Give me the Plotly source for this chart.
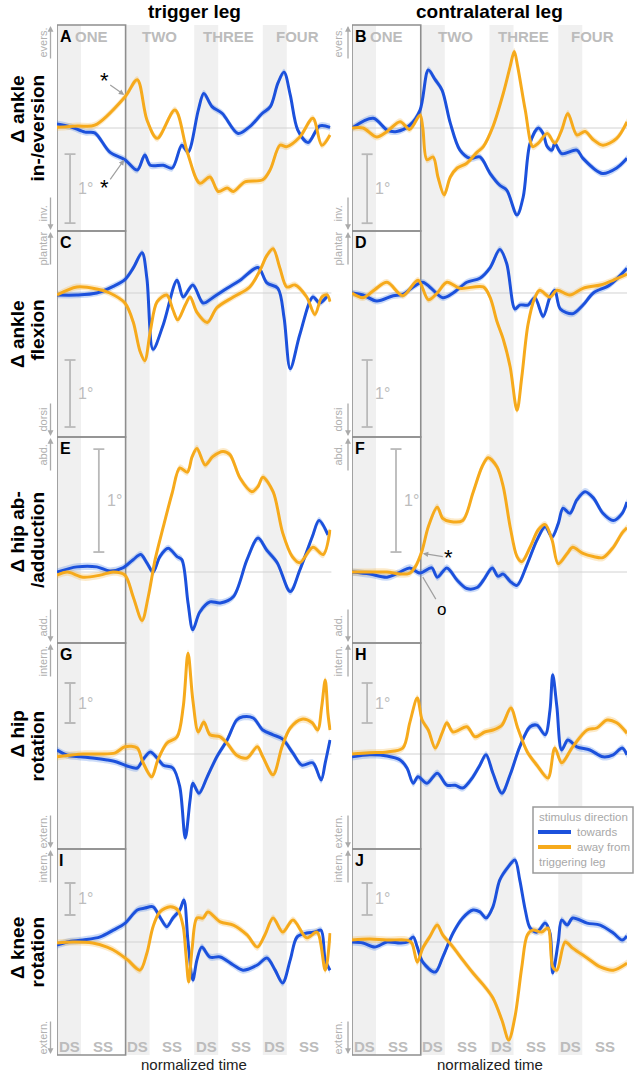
import plotly.graph_objects as go

# ---------------- data: normalized time (steps) / delta angle (deg) ----------------
A_blue_t = [0, 0.19, 0.41, 0.55, 0.77, 0.99, 1.17, 1.28, 1.36, 1.55, 1.68, 1.82, 1.91, 2.06, 2.14, 2.26, 2.41, 2.64, 2.81, 2.99, 3.11, 3.22, 3.31, 3.40, 3.51, 3.66, 3.83, 3.98]
A_blue_v = [0.06, 0.02, -0.06, -0.07, -0.35, -0.46, -0.61, -0.39, -0.54, -0.54, -0.58, -0.25, -0.35, 0.26, 0.50, 0.31, 0.21, -0.08, 0.02, 0.21, 0.31, 0.65, 0.81, 0.48, -0.03, -0.21, 0.03, 0.01]
A_orange_t = [0, 0.3, 0.55, 0.99, 1.17, 1.31, 1.46, 1.72, 1.90, 2.08, 2.23, 2.35, 2.48, 2.57, 2.74, 3.00, 3.11, 3.25, 3.35, 3.54, 3.73, 3.86, 3.98]
A_orange_v = [0.01, 0.03, 0.04, 0.45, 0.70, 0.12, -0.15, 0.26, -0.35, -0.80, -0.71, -0.92, -0.87, -0.92, -0.78, -0.75, -0.60, -0.25, -0.27, -0.13, 0.14, -0.25, -0.10]

B_blue_t = [0, 0.31, 0.51, 0.65, 0.84, 0.99, 1.11, 1.21, 1.31, 1.43, 1.57, 1.72, 1.86, 2.01, 2.15, 2.25, 2.40, 2.49, 2.59, 2.71, 2.78, 2.84, 2.91, 2.95, 3.05, 3.27, 3.36, 3.64, 3.85, 4.0]
B_blue_v = [0, 0.14, -0.03, -0.05, 0.04, 0.26, 0.84, 0.70, 0.55, 0.07, -0.32, -0.44, -0.42, -0.66, -0.83, -0.90, -1.26, -1.00, -0.22, 0.0, -0.08, -0.27, -0.32, -0.22, -0.37, -0.32, -0.44, -0.66, -0.58, -0.44]
B_orange_t = [0, 0.16, 0.36, 0.51, 0.70, 0.84, 0.99, 1.03, 1.09, 1.18, 1.25, 1.34, 1.43, 1.53, 1.67, 1.82, 1.91, 2.05, 2.20, 2.30, 2.36, 2.41, 2.52, 2.63, 2.71, 2.84, 2.95, 3.05, 3.14, 3.27, 3.39, 3.51, 3.65, 3.85, 4.0]
B_orange_v = [0, 0, -0.13, -0.05, 0.09, -0.02, 0.19, 0.0, -0.46, -0.42, -0.71, -0.97, -0.71, -0.58, -0.51, -0.35, -0.27, 0.02, 0.50, 0.89, 1.11, 0.89, 0.26, -0.27, -0.22, -0.08, -0.22, -0.03, 0.21, -0.10, -0.05, -0.17, -0.25, -0.15, 0.09]

C_blue_t = [0, 0.29, 0.58, 0.82, 0.99, 1.11, 1.24, 1.31, 1.40, 1.55, 1.75, 1.84, 1.98, 2.13, 2.27, 2.48, 2.67, 2.93, 3.06, 3.22, 3.31, 3.40, 3.54, 3.73, 3.83, 3.95]
C_blue_v = [-0.03, -0.03, 0.0, 0.10, 0.20, 0.37, 0.60, 0.22, -0.84, -0.47, 0.19, -0.06, 0.12, -0.15, -0.07, 0.07, 0.19, 0.38, 0.15, 0.07, -0.37, -1.13, -0.62, -0.06, -0.15, -0.03]
C_orange_t = [0, 0.29, 0.58, 0.77, 0.99, 1.11, 1.21, 1.28, 1.36, 1.46, 1.60, 1.69, 1.76, 1.87, 1.94, 2.04, 2.19, 2.33, 2.57, 2.81, 2.96, 3.06, 3.15, 3.25, 3.35, 3.47, 3.64, 3.76, 3.86, 3.94, 3.98]
C_orange_v = [-0.03, 0.09, 0.06, 0.0, -0.15, -0.43, -0.87, -1.01, -0.57, -0.13, -0.03, -0.25, -0.40, -0.18, -0.06, -0.29, -0.44, -0.22, -0.06, 0.09, 0.34, 0.56, 0.66, 0.37, 0.09, 0.12, -0.06, -0.32, -0.06, -0.03, -0.13]

D_blue_t = [0, 0.16, 0.36, 0.60, 0.74, 0.89, 1.03, 1.13, 1.32, 1.47, 1.67, 1.86, 2.01, 2.15, 2.25, 2.37, 2.44, 2.56, 2.66, 2.78, 2.88, 2.95, 3.03, 3.21, 3.36, 3.51, 3.75, 4.0]
D_blue_v = [0, -0.03, -0.12, -0.04, -0.02, 0.09, 0.16, 0.09, -0.07, 0.0, 0.16, 0.22, 0.38, 0.65, 0.44, -0.24, -0.18, -0.18, -0.07, -0.35, -0.06, 0.04, -0.24, -0.31, -0.18, 0.0, 0.12, 0.37]
D_orange_t = [0, 0.16, 0.33, 0.51, 0.74, 0.96, 1.11, 1.24, 1.38, 1.57, 1.91, 2.01, 2.11, 2.20, 2.30, 2.40, 2.47, 2.56, 2.66, 2.73, 2.88, 2.98, 3.17, 3.36, 3.61, 3.80, 4.0]
D_orange_v = [0, -0.07, 0.05, 0.16, -0.04, 0.19, -0.10, 0.0, 0.16, 0.07, 0.09, -0.07, -0.43, -0.69, -1.10, -1.75, -1.25, -0.47, -0.07, 0.04, -0.06, 0.04, -0.03, 0.07, 0.12, 0.19, 0.28]

E_blue_t = [0, 0.29, 0.58, 0.77, 0.96, 1.11, 1.22, 1.31, 1.40, 1.50, 1.62, 1.75, 1.82, 1.91, 1.98, 2.08, 2.23, 2.38, 2.57, 2.77, 2.93, 3.06, 3.21, 3.40, 3.54, 3.72, 3.82, 3.95]
E_blue_v = [0.0, 0.05, 0.05, 0.01, 0.04, 0.12, 0.17, 0.09, 0.0, 0.15, 0.23, 0.15, 0.12, -0.30, -0.56, -0.39, -0.29, -0.30, -0.24, 0.12, 0.33, 0.21, 0.09, -0.19, 0.02, 0.34, 0.50, 0.36]
E_orange_t = [0, 0.15, 0.38, 0.63, 0.82, 0.99, 1.11, 1.24, 1.33, 1.43, 1.55, 1.68, 1.79, 1.90, 1.97, 2.04, 2.16, 2.27, 2.42, 2.52, 2.67, 2.84, 2.93, 3.00, 3.15, 3.29, 3.43, 3.54, 3.73, 3.88, 3.98]
E_orange_v = [-0.03, 0.0, -0.05, -0.03, 0.0, -0.03, -0.24, -0.47, -0.24, 0.12, 0.44, 0.77, 1.01, 0.97, 1.12, 1.20, 1.04, 1.12, 1.17, 1.14, 0.91, 0.78, 0.83, 0.92, 0.78, 0.38, 0.15, 0.09, 0.24, 0.17, 0.41]

F_blue_t = [0, 0.26, 0.51, 0.70, 0.84, 0.99, 1.16, 1.24, 1.38, 1.53, 1.67, 1.82, 1.91, 2.04, 2.12, 2.20, 2.30, 2.40, 2.55, 2.69, 2.81, 2.91, 3.00, 3.07, 3.17, 3.27, 3.39, 3.51, 3.65, 3.80, 3.93, 4.0]
F_blue_v = [0.0, -0.02, -0.05, 0.0, 0.04, -0.01, 0.04, -0.05, 0.04, -0.08, -0.16, -0.15, -0.08, 0.04, -0.04, -0.02, -0.09, -0.13, 0.08, 0.31, 0.44, 0.34, 0.47, 0.62, 0.57, 0.70, 0.78, 0.72, 0.57, 0.50, 0.57, 0.68]
F_orange_t = [0, 0.26, 0.51, 0.70, 0.84, 0.92, 1.02, 1.11, 1.24, 1.32, 1.43, 1.61, 1.76, 1.89, 1.98, 2.11, 2.20, 2.30, 2.40, 2.47, 2.59, 2.71, 2.81, 2.91, 3.00, 3.13, 3.21, 3.36, 3.51, 3.65, 3.80, 3.93, 4.0]
F_orange_v = [0.0, 0.0, 0.0, -0.02, -0.01, 0.05, 0.21, 0.44, 0.63, 0.52, 0.49, 0.50, 0.77, 1.02, 1.11, 1.02, 0.83, 0.44, 0.15, 0.10, 0.24, 0.41, 0.46, 0.31, 0.08, 0.18, 0.24, 0.18, 0.15, 0.14, 0.24, 0.38, 0.43]

G_blue_t = [0, 0.15, 0.34, 0.52, 0.73, 0.87, 1.02, 1.17, 1.25, 1.36, 1.46, 1.55, 1.69, 1.79, 1.87, 1.94, 1.98, 2.07, 2.19, 2.33, 2.48, 2.62, 2.71, 2.86, 3.00, 3.15, 3.29, 3.44, 3.57, 3.73, 3.85, 3.91, 3.98]
G_blue_v = [0.10, -0.03, -0.07, -0.10, -0.15, -0.20, -0.30, -0.35, -0.15, 0.05, -0.10, -0.28, -0.35, -0.82, -2.10, -1.15, -0.73, -0.98, -0.57, -0.07, 0.35, 0.85, 0.93, 0.90, 0.60, 0.48, 0.37, 0.02, -0.28, -0.22, -0.65, -0.22, 0.35]
G_orange_t = [0, 0.19, 0.38, 0.63, 0.85, 0.99, 1.17, 1.25, 1.38, 1.47, 1.60, 1.75, 1.84, 1.91, 1.98, 2.06, 2.14, 2.23, 2.38, 2.48, 2.62, 2.77, 2.92, 3.00, 3.15, 3.28, 3.40, 3.57, 3.72, 3.80, 3.86, 3.91, 3.95, 3.98]
G_orange_v = [-0.07, -0.03, 0.0, 0.0, 0.03, 0.18, 0.15, -0.20, -0.57, -0.15, 0.27, 0.43, 1.18, 2.52, 1.35, 0.55, 0.80, 0.48, 0.43, 0.27, -0.03, -0.10, 0.18, -0.07, -0.52, 0.18, 0.65, 0.87, 0.78, 0.60, 1.20, 1.85, 1.00, 0.60]

H_blue_t = [0, 0.26, 0.51, 0.70, 0.80, 0.89, 0.96, 1.09, 1.24, 1.38, 1.50, 1.61, 1.76, 1.86, 1.95, 2.05, 2.18, 2.30, 2.44, 2.59, 2.69, 2.81, 2.88, 2.92, 2.98, 3.05, 3.14, 3.27, 3.46, 3.65, 3.80, 3.93, 4.0]
H_blue_v = [-0.07, -0.02, -0.05, -0.15, -0.35, -0.73, -0.57, -0.73, -0.48, -0.78, -0.78, -0.85, -0.57, -0.28, -0.02, -0.48, -0.98, -0.52, 0.18, 0.68, 0.72, 0.48, 1.10, 1.98, 1.18, 0.10, 0.35, 0.18, 0.10, -0.07, -0.02, 0.15, -0.02]
H_orange_t = [0, 0.26, 0.51, 0.74, 0.84, 0.95, 1.02, 1.11, 1.21, 1.31, 1.38, 1.47, 1.67, 1.79, 1.93, 2.05, 2.18, 2.31, 2.41, 2.55, 2.69, 2.85, 2.95, 3.05, 3.21, 3.42, 3.56, 3.71, 3.85, 4.0]
H_orange_v = [0.0, 0.03, 0.05, 0.15, 0.78, 1.40, 0.85, 0.60, 0.15, 0.52, 0.78, 0.55, 0.68, 0.43, 0.55, 0.60, 0.72, 1.15, 0.65, 0.05, -0.28, -0.60, 0.15, -0.22, 0.18, 0.60, 0.65, 0.85, 0.78, 0.52]

I_blue_t = [0, 0.15, 0.38, 0.63, 0.82, 0.99, 1.17, 1.28, 1.40, 1.50, 1.60, 1.69, 1.79, 1.85, 1.91, 1.98, 2.04, 2.11, 2.23, 2.38, 2.57, 2.71, 2.92, 3.06, 3.18, 3.29, 3.40, 3.50, 3.64, 3.76, 3.85, 3.91, 3.98]
I_blue_v = [-0.10, 0.0, 0.06, 0.16, 0.37, 0.58, 1.00, 1.06, 1.10, 0.78, 0.48, 0.75, 1.00, 1.31, 0.0, -1.19, -0.56, -0.16, -0.47, -0.47, -0.72, -0.88, -0.72, -0.50, -0.88, -1.28, -0.56, 0.16, 0.28, 0.31, 0.37, -0.56, -0.88]
I_orange_t = [0, 0.23, 0.52, 0.73, 0.87, 1.03, 1.21, 1.31, 1.40, 1.50, 1.65, 1.76, 1.84, 1.88, 1.92, 1.97, 2.04, 2.13, 2.20, 2.38, 2.57, 2.77, 2.92, 3.03, 3.15, 3.29, 3.44, 3.64, 3.79, 3.91, 3.98]
I_orange_v = [-0.03, 0.0, -0.03, -0.16, -0.31, -0.56, -0.88, -0.35, 0.48, 0.94, 1.10, 1.00, 0.48, -0.40, -1.25, -0.20, 0.75, 0.75, 0.94, 0.63, 0.53, 0.22, -0.16, 0.22, 0.75, 0.31, 0.69, 0.13, 0.31, -0.88, 0.28]

J_blue_t = [0, 0.16, 0.33, 0.51, 0.70, 0.81, 0.89, 0.95, 1.03, 1.21, 1.32, 1.47, 1.61, 1.76, 1.86, 1.95, 2.05, 2.15, 2.27, 2.37, 2.44, 2.52, 2.59, 2.69, 2.81, 2.88, 2.92, 3.00, 3.05, 3.13, 3.21, 3.42, 3.61, 3.80, 3.93, 4.0]
J_blue_v = [0.0, -0.03, -0.16, 0.0, -0.03, 0.0, 0.16, -0.16, -0.63, -0.94, -0.47, 0.28, 0.75, 1.00, 0.94, 0.75, 1.10, 1.94, 2.34, 2.56, 1.94, 1.00, 0.44, 0.31, 0.59, 0.28, -0.97, 0.0, 0.69, 0.53, 0.75, 0.59, 0.53, 0.28, 0.06, 0.19]
J_orange_t = [0, 0.26, 0.51, 0.80, 0.87, 0.95, 1.03, 1.13, 1.24, 1.32, 1.47, 1.61, 1.76, 1.91, 2.05, 2.18, 2.28, 2.37, 2.47, 2.55, 2.63, 2.76, 2.85, 2.92, 2.98, 3.10, 3.21, 3.42, 3.61, 3.80, 4.0]
J_orange_v = [0.06, 0.09, 0.06, 0.06, -0.03, -0.63, -0.19, 0.16, 0.53, 0.22, -0.16, -0.56, -0.97, -1.34, -1.75, -2.44, -3.06, -2.34, -0.78, 0.22, 0.37, 0.31, 0.44, -0.78, -0.88, 0.0, -0.19, -0.50, -0.78, -0.88, -0.66]

# standard-error half width of the shaded band, per row (deg)
ROW_SEM = [0.05, 0.05, 0.035, 0.09, 0.11]

ROW_LABELS = [("Δ ankle", "in-/eversion"), ("Δ ankle", "flexion"), ("Δ hip ab-", "/adduction"),
              ("Δ hip", "rotation"), ("Δ knee", "rotation")]
DIR_LABELS = [("evers.", "inv."), ("plantar", "dorsi"), ("abd.", "add."),
              ("intern.", "extern."), ("intern.", "extern.")]
STEP_NAMES = ["ONE", "TWO", "THREE", "FOUR"]
PHASE_NAMES = ["DS", "SS"]
COL_TITLES = ["trigger leg", "contralateral leg"]
LETTERS = ["A", "B", "C", "D", "E", "F", "G", "H", "I", "J"]

PANELS = [
    (A_blue_t, A_blue_v, A_orange_t, A_orange_v), (B_blue_t, B_blue_v, B_orange_t, B_orange_v),
    (C_blue_t, C_blue_v, C_orange_t, C_orange_v), (D_blue_t, D_blue_v, D_orange_t, D_orange_v),
    (E_blue_t, E_blue_v, E_orange_t, E_orange_v), (F_blue_t, F_blue_v, F_orange_t, F_orange_v),
    (G_blue_t, G_blue_v, G_orange_t, G_orange_v), (H_blue_t, H_blue_v, H_orange_t, H_orange_v),
    (I_blue_t, I_blue_v, I_orange_t, I_orange_v), (J_blue_t, J_blue_v, J_orange_t, J_orange_v),
]

# ---------------- geometry / styling ----------------
W, H = 636, 1078
def px(x): return x / W
def py(y): return 1 - y / H

COL_X = [(57, 331.4), (352, 627)]
ROW_Y = [(25, 231), (231, 437), (437, 643), (643, 849), (849, 1055)]
Y_RANGES = [(-1.493, 1.493), (-2.149, 0.925), (-0.689, 1.311), (-2.375, 2.775), (-3.531, 2.906)]
DS_FRAC = 0.35
BAR_BOTTOM = [-1.38, -2.0, 0.194, 0.775, 0.844]
BAR_X = [[0.19, 0.19, 0.61, 0.19, 0.19], [0.22, 0.22, 0.64, 0.22, 0.22]]
ROW_TEXT_TOP = [75, 300, 492, 711, 917]

BLUE = "#1c51dc"
ORANGE = "#f6aa1c"
BLUE_BAND = "rgba(70,125,230,0.28)"
ORANGE_BAND = "rgba(246,180,60,0.28)"
GRAY_TXT = "#bcbcbc"
DIR_GRAY = "#b0b0b0"
FONT = "Liberation Sans, Arial, Helvetica, sans-serif"

fig = go.Figure()
layout = dict(width=W, height=H, margin=dict(l=0, r=0, t=0, b=0), autosize=False,
              paper_bgcolor="white", plot_bgcolor="rgba(0,0,0,0)", showlegend=False,
              font=dict(family=FONT))
shapes, annos = [], []

def axn(n):
    return "" if n == 1 else str(n)

# gray DS bands (whole column height)
for c in range(2):
    xr = "x" + axn(c + 1)
    for k in range(4):
        shapes.append(dict(type="rect", xref=xr, yref="paper", x0=k, x1=k + DS_FRAC,
                           y0=py(ROW_Y[-1][1]), y1=py(ROW_Y[0][0]), fillcolor="#f0f0f0",
                           line=dict(width=0), layer="below"))

for idx, (bt, bv, ot, ov) in enumerate(PANELS):
    r, c = divmod(idx, 2)
    n = idx + 1
    xa, ya = "x" + axn(n), "y" + axn(n)
    layout["xaxis" + axn(n)] = dict(domain=[px(COL_X[c][0]), px(COL_X[c][1])], range=[0, 4],
                                    visible=False, anchor=ya, fixedrange=True)
    layout["yaxis" + axn(n)] = dict(domain=[py(ROW_Y[r][1]), py(ROW_Y[r][0])], range=list(Y_RANGES[r]),
                                    visible=False, anchor=xa, fixedrange=True)
    sem = ROW_SEM[r]
    for t, v, band in ((bt, bv, BLUE_BAND), (ot, ov, ORANGE_BAND)):
        fig.add_trace(go.Scatter(x=t, y=[a - sem for a in v], xaxis=xa, yaxis=ya, mode="lines",
                                 line=dict(width=0, shape="spline", smoothing=0.9), hoverinfo="skip"))
        fig.add_trace(go.Scatter(x=t, y=[a + sem for a in v], xaxis=xa, yaxis=ya, mode="lines",
                                 line=dict(width=0, shape="spline", smoothing=0.9), fill="tonexty",
                                 fillcolor=band, hoverinfo="skip"))
    fig.add_trace(go.Scatter(x=bt, y=bv, xaxis=xa, yaxis=ya, mode="lines", name="towards",
                             line=dict(color=BLUE, width=3, shape="spline", smoothing=0.9)))
    fig.add_trace(go.Scatter(x=ot, y=ov, xaxis=xa, yaxis=ya, mode="lines", name="away from",
                             line=dict(color=ORANGE, width=3, shape="spline", smoothing=0.9)))

    # zero line
    shapes.append(dict(type="line", xref=xa + " domain", yref=ya, x0=0, x1=1, y0=0, y1=0,
                       line=dict(color="#d2d2d2", width=1), layer="below"))
    # box around step ONE
    shapes.append(dict(type="rect", xref=xa, yref=ya + " domain", x0=0, x1=1, y0=0, y1=1,
                       line=dict(color="#8e8e8e", width=1.6), layer="below"))
    # scale bar 1°
    bx = BAR_X[c][r]
    b0 = BAR_BOTTOM[r]
    for (x0, x1, y0, y1) in ((bx, bx, b0, b0 + 1), (bx - 0.08, bx + 0.08, b0, b0),
                             (bx - 0.08, bx + 0.08, b0 + 1, b0 + 1)):
        shapes.append(dict(type="line", xref=xa, yref=ya, x0=x0, x1=x1, y0=y0, y1=y1,
                           line=dict(color="#b9b9b9", width=1.8)))
    annos.append(dict(xref=xa, yref=ya, x=bx + 0.09, y=b0 + 0.5, text="1°", showarrow=False,
                      xanchor="left", yanchor="middle", font=dict(size=16, color="#bdbdbd")))
    # panel letter
    top, bot = ROW_Y[r]
    annos.append(dict(xref="paper", yref="paper", x=px(COL_X[c][0] + 0.5), y=py(top + 11.5),
                      text="<b>%s</b>" % LETTERS[idx], showarrow=False, xanchor="left",
                      yanchor="middle", font=dict(size=16, color="black")))
    # direction labels and arrows
    tx = 42.5 if c == 0 else 337.5
    ax_x = 50.5 if c == 0 else 348
    up, down = DIR_LABELS[r]
    annos.append(dict(xref="paper", yref="paper", x=px(tx), y=py(top + 18), text=up, textangle=-90,
                      showarrow=False, xanchor="center", yanchor="middle",
                      font=dict(size=11, color=DIR_GRAY)))
    annos.append(dict(xref="paper", yref="paper", x=px(tx), y=py(bot - 17), text=down, textangle=-90,
                      showarrow=False, xanchor="center", yanchor="middle",
                      font=dict(size=11, color=DIR_GRAY)))
    annos.append(dict(xref="paper", yref="paper", x=px(ax_x), y=py(top + 1), text="", showarrow=True,
                      ax=0, ay=34, arrowhead=2, arrowsize=0.9, arrowwidth=1.3, arrowcolor="#aaaaaa"))
    annos.append(dict(xref="paper", yref="paper", x=px(ax_x), y=py(bot - 1), text="", showarrow=True,
                      ax=0, ay=-34, arrowhead=2, arrowsize=0.9, arrowwidth=1.3, arrowcolor="#aaaaaa"))

# row labels
for r in range(5):
    l1, l2 = ROW_LABELS[r]
    for txt, cx in ((l1, 17), (l2, 37)):
        annos.append(dict(xref="paper", yref="paper", x=px(cx), y=py(ROW_TEXT_TOP[r] - 2),
                          text="<b>%s</b>" % txt, textangle=-90, showarrow=False,
                          xanchor="center", yanchor="top", font=dict(size=19, color="black")))

# column titles, step names, phases, x labels
for c in range(2):
    xr = "x" + axn(c + 1)
    cx = (COL_X[c][0] + COL_X[c][1]) / 2
    annos.append(dict(xref="paper", yref="paper", x=px(cx), y=py(12), text="<b>%s</b>" % COL_TITLES[c],
                      showarrow=False, xanchor="center", yanchor="middle",
                      font=dict(size=19, color="black")))
    annos.append(dict(xref="paper", yref="paper", x=px(cx), y=py(1064), text="normalized time",
                      showarrow=False, xanchor="center", yanchor="middle",
                      font=dict(size=15, color="#222222")))
    for k in range(4):
        annos.append(dict(xref=xr, yref="paper", x=k + 0.5, y=py(36.5), text="<b>%s</b>" % STEP_NAMES[k],
                          showarrow=False, xanchor="center", yanchor="middle",
                          font=dict(size=15, color=GRAY_TXT)))
        for name, off in zip(PHASE_NAMES, (DS_FRAC / 2, (1 + DS_FRAC) / 2)):
            annos.append(dict(xref=xr, yref="paper", x=k + off, y=py(1046), text="<b>%s</b>" % name,
                              showarrow=False, xanchor="center", yanchor="middle",
                              font=dict(size=15, color=GRAY_TXT)))

# significance markers
annos.append(dict(xref="x", yref="y", x=0.98, y=0.48, text="*", showarrow=True, ax=-20, ay=-14,
                  arrowhead=2, arrowsize=0.9, arrowwidth=1.2, arrowcolor="#a0a0a0",
                  font=dict(size=22, color="black")))
annos.append(dict(xref="x", yref="y", x=0.98, y=-0.46, text="*", showarrow=True, ax=-20, ay=28,
                  arrowhead=2, arrowsize=0.9, arrowwidth=1.2, arrowcolor="#a0a0a0",
                  font=dict(size=22, color="black")))
annos.append(dict(xref="x6", yref="y6", x=1.03, y=0.18, text="*", showarrow=True, ax=26, ay=4,
                  arrowhead=2, arrowsize=0.9, arrowwidth=1.2, arrowcolor="#a0a0a0",
                  font=dict(size=22, color="black")))
annos.append(dict(xref="x6", yref="y6", x=1.03, y=-0.05, text="o", showarrow=True, ax=19, ay=32,
                  arrowhead=0, arrowwidth=1.2, arrowcolor="#a0a0a0",
                  font=dict(size=17, color="black")))

# legend box (manual)
shapes.append(dict(type="rect", xref="paper", yref="paper", x0=px(533), x1=px(633), y0=py(873), y1=py(807),
                   fillcolor="white", line=dict(color="#9a9a9a", width=1.5), layer="above"))
for yy, col in ((832, BLUE), (847, ORANGE)):
    shapes.append(dict(type="line", xref="paper", yref="paper", x0=px(538), x1=px(571), y0=py(yy), y1=py(yy),
                       line=dict(color=col, width=4), layer="above"))
for txt, xx, yy in (("stimulus direction", 537, 817), ("towards", 575, 832),
                    ("away from", 575, 847), ("triggering leg", 537, 862)):
    annos.append(dict(xref="paper", yref="paper", x=px(xx), y=py(yy), text=txt, showarrow=False,
                      xanchor="left", yanchor="middle", font=dict(size=11.5, color="#a8a8a8")))

layout["shapes"] = shapes
layout["annotations"] = annos
fig.update_layout(**layout)

fig.write_html("out.html", config={"displayModeBar": False},
               post_script="document.body.style.margin='0';document.body.style.overflow='hidden';")
